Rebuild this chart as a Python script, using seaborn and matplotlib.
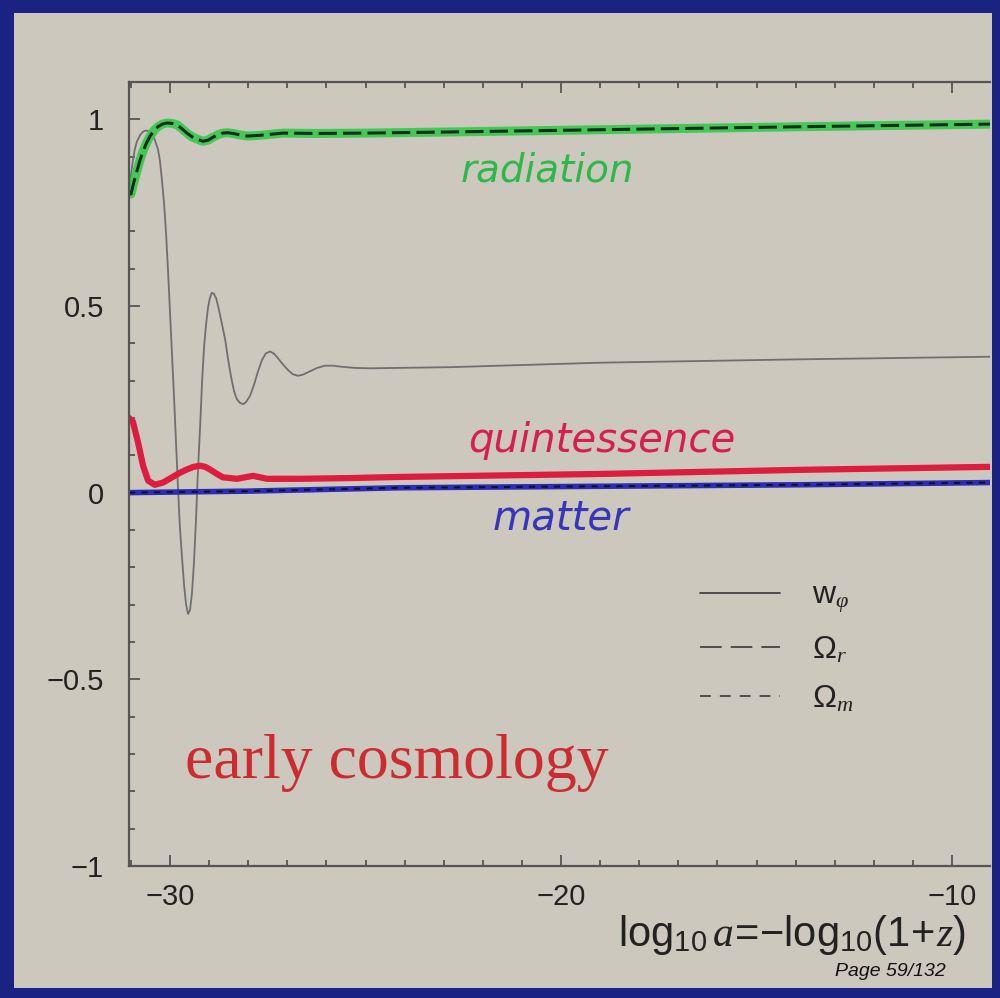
import numpy as np
import pandas as pd
import seaborn as sb
import matplotlib.pyplot as plt
from matplotlib.lines import Line2D
from matplotlib.patches import Rectangle
from matplotlib.ticker import MultipleLocator, FixedLocator, FuncFormatter

# values (x = log10 a)
wphi_x = [-31.05, -31.00, -30.95, -30.90, -30.85, -30.77, -30.69, -30.62, -30.54, -30.46,
          -30.39, -30.31, -30.26, -30.21, -30.15, -30.10, -30.05, -30.00, -29.95, -29.90,
          -29.85, -29.80, -29.75, -29.69, -29.64, -29.59, -29.54, -29.49, -29.44, -29.39,
          -29.34, -29.29, -29.23, -29.18, -29.13, -29.08, -29.03, -28.98, -28.93, -28.88,
          -28.82, -28.75, -28.67, -28.59, -28.52, -28.44, -28.36, -28.29, -28.21, -28.13,
          -28.06, -27.95, -27.85, -27.75, -27.65, -27.55, -27.44, -27.34, -27.24, -27.11,
          -26.98, -26.86, -26.73, -26.60, -26.42, -26.24, -26.04, -25.83, -25.60, -25.27,
          -24.89, -22.84, -19.00, -13.89, -9.03]
wphi_y = [0.80, 0.85, 0.89, 0.92, 0.94, 0.957, 0.967, 0.970, 0.968, 0.960,
          0.945, 0.920, 0.890, 0.840, 0.770, 0.690, 0.590, 0.480, 0.370, 0.260,
          0.140, 0.020, -0.090, -0.180, -0.250, -0.300, -0.325, -0.315, -0.270, -0.190,
          -0.080, 0.050, 0.180, 0.300, 0.390, 0.450, 0.495, 0.522, 0.535, 0.533,
          0.520, 0.490, 0.450, 0.410, 0.360, 0.310, 0.270, 0.250, 0.240, 0.237,
          0.242, 0.260, 0.290, 0.325, 0.355, 0.373, 0.378, 0.372, 0.360, 0.343,
          0.328, 0.317, 0.313, 0.316, 0.325, 0.334, 0.340, 0.340, 0.337, 0.334,
          0.333, 0.336, 0.348, 0.357, 0.364]

rad_x = [-31.05, -31.00, -30.93, -30.85, -30.77, -30.69, -30.60, -30.51, -30.41, -30.31,
         -30.20, -30.08, -29.95, -29.82, -29.70, -29.57, -29.44, -29.31, -29.16, -29.03,
         -28.90, -28.77, -28.65, -28.52, -28.39, -28.21, -28.03, -27.70, -27.11, -26.24,
         -24.96, -22.84, -19.00, -13.89, -9.03]
rad_y = [0.80, 0.80, 0.83, 0.86, 0.89, 0.915, 0.937, 0.955, 0.970, 0.980,
         0.987, 0.990, 0.989, 0.985, 0.975, 0.963, 0.953, 0.947, 0.941, 0.944,
         0.952, 0.959, 0.963, 0.964, 0.962, 0.958, 0.955, 0.957, 0.963, 0.962,
         0.963, 0.966, 0.972, 0.980, 0.987]

quint_x = [-31.05, -30.95, -30.82, -30.69, -30.56, -30.39, -30.18, -29.93, -29.75, -29.57,
           -29.40, -29.23, -29.10, -28.98, -28.80, -28.65, -28.29, -27.88, -27.52, -26.68,
           -25.40, -24.12, -19.00, -13.89, -9.03]
quint_y = [0.20, 0.19, 0.135, 0.072, 0.032, 0.021, 0.027, 0.042, 0.053, 0.062,
           0.069, 0.072, 0.069, 0.062, 0.050, 0.041, 0.037, 0.045, 0.037, 0.037,
           0.039, 0.042, 0.050, 0.061, 0.069]

matter_x = [-31.05, -28.0, -24.12, -19.00, -13.89, -9.03]
matter_y = [0.0, 0.004, 0.013, 0.017, 0.021, 0.027]

NAVY = "#1a2282"
BEIGE = "#cdc8bd"

sb.set_theme(style="ticks")
plt.rcParams['font.family'] = ['Liberation Sans', 'DejaVu Sans']
plt.rcParams['mathtext.fontset'] = 'custom'
plt.rcParams['mathtext.rm'] = 'Liberation Sans'
plt.rcParams['mathtext.it'] = 'Liberation Serif:italic'
plt.rcParams['mathtext.sf'] = 'Liberation Sans'

fig = plt.figure(figsize=(10, 9.98), dpi=100, facecolor=NAVY)
fig.add_artist(Rectangle((0.014, 0.010), 0.978, 0.977, transform=fig.transFigure,
                         facecolor=BEIGE, edgecolor='none', zorder=-10))

ax = fig.add_axes([0.129, 0.1323, 0.861, 0.7856])
ax.set_facecolor('none')

# w_phi thin grey
sb.lineplot(x=wphi_x, y=wphi_y, ax=ax, color="#6f6f6f", lw=1.3)
# radiation: green marker over black dashes
sb.lineplot(x=rad_x, y=rad_y, ax=ax, color="#36c94c", lw=6.5, alpha=0.9)
sb.lineplot(x=rad_x, y=rad_y, ax=ax, color="#12301a", lw=2.2, ls=(0, (6, 2)))
# quintessence: red
sb.lineplot(x=quint_x, y=quint_y, ax=ax, color="#dd1c3e", lw=4.5)
# matter: blue with black short dashes
sb.lineplot(x=matter_x, y=matter_y, ax=ax, color="#2c2cb4", lw=4)
sb.lineplot(x=matter_x, y=matter_y, ax=ax, color="#101030", lw=1.5, ls=(0, (3, 3)))

ax.set_xlim(-31.05, -9.03)
ax.set_ylim(-1.0, 1.1)
ax.xaxis.set_major_locator(MultipleLocator(10))
ax.xaxis.set_minor_locator(MultipleLocator(1))
ax.yaxis.set_major_locator(FixedLocator([-1, -0.5, 0, 0.5, 1]))
ax.yaxis.set_minor_locator(MultipleLocator(0.1))

def tick_fmt(v, pos):
    return f"{v:g}".replace("-", "\u2212")

ax.xaxis.set_major_formatter(FuncFormatter(tick_fmt))
ax.yaxis.set_major_formatter(FuncFormatter(tick_fmt))
ax.tick_params(which='both', direction='in', top=True, right=False, color="#555555",
               width=1.3, labelsize=21, labelcolor="#222222")
ax.tick_params(which='major', length=8)
ax.tick_params(which='minor', length=4)
ax.tick_params(axis='y', pad=18)
ax.tick_params(axis='x', pad=12)
ax.spines['right'].set_visible(False)
for s in ['left', 'top', 'bottom']:
    ax.spines[s].set_color("#555555")
    ax.spines[s].set_linewidth(1.6)
ax.set_xlabel("")
ax.set_ylabel("")

# legend (black lines as in the original figure)
handles = [Line2D([], [], color="#444444", lw=1.3),
           Line2D([], [], color="#444444", lw=1.3, ls=(0, (12, 5))),
           Line2D([], [], color="#444444", lw=1.3, ls=(0, (6, 5)))]
labels = [r"w$_{\varphi}$", r"$\Omega_r$", r"$\Omega_m$"]
ax.legend(handles, labels, frameon=False, loc='upper left',
          bbox_to_anchor=(0.70, 0.418), bbox_transform=fig.transFigure,
          handlelength=2.5, fontsize=23, labelspacing=0.6, handletextpad=1.0,
          borderpad=0, borderaxespad=0, labelcolor="#222222")

fig.text(0.792, 1 - 935 / 998, r"$\mathrm{log}_{10}\,a\!=\!{-}\mathrm{log}_{10}(1\!+\!z)$",
         fontsize=30, ha='center', va='center', color="#222222")
fig.text(0.397, 1 - 763 / 998, "early cosmology", family="Liberation Serif",
         fontsize=46, color="#cc2b30", ha='center', va='center')
fig.text(0.547, 1 - 170 / 998, "radiation", fontsize=28, style='italic',
         color="#2db84a", ha='center', va='center', family="DejaVu Sans")
fig.text(0.602, 1 - 440 / 998, "quintessence", fontsize=29, style='italic',
         color="#d81e50", ha='center', va='center', family="DejaVu Sans")
fig.text(0.561, 1 - 518 / 998, "matter", fontsize=29, style='italic',
         color="#3636bb", ha='center', va='center', family="DejaVu Sans")
fig.text(0.890, 1 - 972 / 998, "Page 59/132", fontsize=14, style='italic',
         color="#111111", ha='center', va='center')

fig.savefig("out.png", dpi=100, facecolor=NAVY)
